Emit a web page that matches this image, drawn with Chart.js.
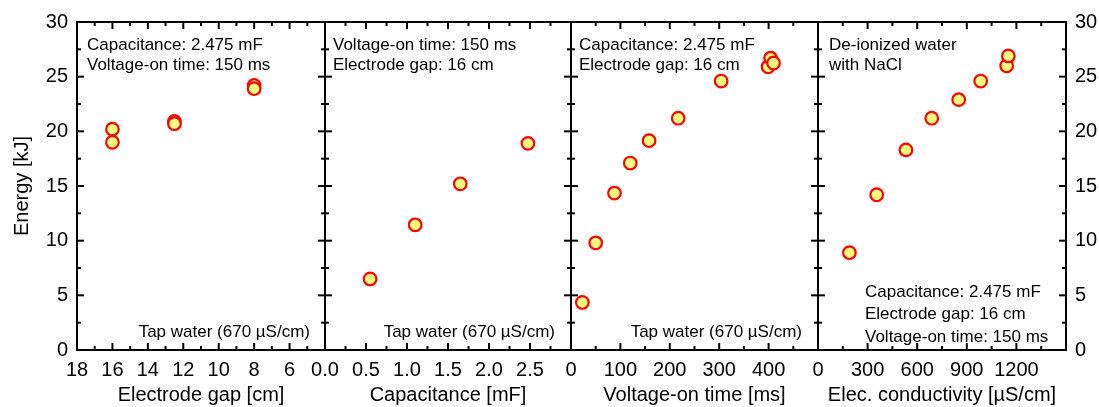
<!DOCTYPE html>
<html><head><meta charset="utf-8">
<script src="https://cdn.jsdelivr.net/npm/chart.js@4.4.1/dist/chart.umd.min.js"></script>
<style>
html,body{margin:0;padding:0;background:#fff;}
#wrap{position:relative;width:1099px;height:407px;overflow:hidden;background:#fff;}
canvas{position:absolute;top:0;}
</style></head><body>
<div id="wrap">
<canvas id="c1" width="365" height="407" style="left:0px"></canvas>
<canvas id="c2" width="326" height="407" style="left:285px"></canvas>
<canvas id="c3" width="327" height="407" style="left:531px"></canvas>
<canvas id="c4" width="321" height="407" style="left:778px"></canvas>
</div>
<script>
// ---- data ----
const gapX  = [16, 16, 12.5, 12.5, 8, 8];
const gapY  = [20.2, 19.0, 20.9, 20.7, 24.2, 23.9];
const capX  = [0.55, 1.1, 1.65, 2.475];
const capY  = [6.5, 11.45, 15.2, 18.9];
const timeX = [23, 50, 88, 120, 158, 217, 304, 399, 404, 410];
const timeY = [4.35, 9.8, 14.35, 17.1, 19.15, 21.2, 24.6, 25.9, 26.7, 26.25];
const condX = [190, 355, 532, 688, 851, 984, 1141, 1151];
const condY = [8.9, 14.2, 18.3, 21.2, 22.9, 24.6, 26.0, 26.9];

const gapTicks    = [18, 16, 14, 12, 10, 8, 6];
const capTicks    = [0, 0.5, 1.0, 1.5, 2.0, 2.5];
const timeTicks   = [0, 100, 200, 300, 400];
const condTicks   = [0, 300, 600, 900, 1200];
const energyTicks = [0, 5, 10, 15, 20, 25, 30];

const FONT = "'Liberation Sans', Arial, Helvetica, sans-serif";

const frameTicks = {
  id: 'frameTicks',
  beforeDatasetsDraw(chart, args, opts) {
    const {ctx, chartArea: a, scales: {x, y}} = chart;
    ctx.save();
    ctx.strokeStyle = '#000';
    ctx.lineWidth = 2;
    const MAJ = 7, MIN = 4;
    const seg = (x1, y1, x2, y2) => { ctx.beginPath(); ctx.moveTo(x1, y1); ctx.lineTo(x2, y2); ctx.stroke(); };
    // x ticks (top and bottom, inward)
    const hx = opts.xStep / 2;
    const xlo = Math.min(x.min, x.max), xhi = Math.max(x.min, x.max);
    for (let k = Math.ceil(xlo / hx - 1e-9); k * hx <= xhi + 1e-9; k++) {
      const px = x.getPixelForValue(k * hx);
      if (px < a.left + 1.5 || px > a.right - 1.5) continue;
      const len = (k % 2 === 0) ? MAJ : MIN;
      seg(px, a.top, px, a.top + len);
      seg(px, a.bottom, px, a.bottom - len);
    }
    // y ticks (left and right, inward)
    const hy = 2.5;
    for (let k = 1; k * hy < 30 - 1e-9; k++) {
      const py = y.getPixelForValue(k * hy);
      const len = (k % 2 === 0) ? MAJ : MIN;
      seg(a.left, py, a.left + len, py);
      seg(a.right, py, a.right - len, py);
    }
    ctx.strokeRect(a.left, a.top, a.right - a.left, a.bottom - a.top);
    // notes
    ctx.fillStyle = '#000';
    ctx.font = '17px ' + FONT;
    ctx.textBaseline = 'alphabetic';
    for (const n of opts.notes) {
      if (n.right !== undefined) { ctx.textAlign = 'right'; ctx.fillText(n.t, a.right - n.right, n.fromBottom !== undefined ? a.bottom - n.fromBottom : a.top + n.top); }
      else { ctx.textAlign = 'left'; ctx.fillText(n.t, a.left + n.left, n.fromBottom !== undefined ? a.bottom - n.fromBottom : a.top + n.top); }
    }
    ctx.restore();
  }
};

function makeChart(id, c) {
  const yScale = {
    type: 'linear', min: 0, max: 30, display: c.yPos ? true : false,
    position: c.yPos || 'left',
    afterBuildTicks: s => { s.ticks = energyTicks.map(v => ({value: v})); },
    afterFit: s => { if (c.yWidth) s.width = c.yWidth; },
    grid: {display: false, drawTicks: false},
    border: {display: false},
    ticks: {color: '#000', font: {family: FONT, size: 20}, padding: 9},
    title: {display: !!c.yTitle, text: c.yTitle || '', color: '#000', font: {family: FONT, size: 20, lineHeight: 1.2}, padding: {top: 10, bottom: 0}}
  };
  return new Chart(document.getElementById(id), {
    type: 'scatter',
    data: {datasets: [{
      data: c.xs.map((v, i) => ({x: v, y: c.ys[i]})),
      pointRadius: 6.3, pointHoverRadius: 6.3,
      pointBackgroundColor: '#FFFF80', pointBorderColor: '#FF0000', pointBorderWidth: 2.2
    }]},
    options: {
      responsive: false, animation: false, events: [],
      layout: {padding: c.padding},
      plugins: {legend: {display: false}, tooltip: {enabled: false},
        frameTicks: {xStep: c.xStep, notes: c.notes}},
      scales: {
        x: {
          type: 'linear', min: c.xMin, max: c.xMax, reverse: !!c.reverse, position: 'bottom',
          afterBuildTicks: s => { s.ticks = c.xTicks.map(v => ({value: v})); },
          afterFit: s => { s.height = 57; },
          grid: {display: false, drawTicks: false},
          border: {display: false},
          ticks: {color: '#000', font: {family: FONT, size: 20}, padding: 8, maxRotation: 0, autoSkip: false,
            callback: c.fmt || (v => String(v))},
          title: {display: true, text: c.xTitle, color: '#000', font: {family: FONT, size: 20, lineHeight: 1.2}, padding: 0}
        },
        y: yScale
      }
    },
    plugins: [frameTicks]
  });
}

makeChart('c1', {
  xs: gapX, ys: gapY, xMin: 4, xMax: 18, reverse: true, xTicks: gapTicks, xStep: 2,
  xTitle: 'Electrode gap [cm]', yPos: 'left', yWidth: 77, yTitle: 'Energy [kJ]',
  padding: {top: 22, left: 0, right: 40, bottom: 0},
  notes: [
    {t: 'Capacitance: 2.475 mF', left: 10, top: 28},
    {t: 'Voltage-on time: 150 ms', left: 10, top: 47.5},
    {t: 'Tap water (670 \u00b5S/cm)', right: 15, fromBottom: 13}
  ]
});
makeChart('c2', {
  xs: capX, ys: capY, xMin: 0, xMax: 3, xTicks: capTicks, xStep: 0.5,
  fmt: v => Number(v).toFixed(1),
  xTitle: 'Capacitance [mF]',
  padding: {top: 22, left: 40, right: 40, bottom: 0},
  notes: [
    {t: 'Voltage-on time: 150 ms', left: 8, top: 28},
    {t: 'Electrode gap: 16 cm', left: 8, top: 47.5},
    {t: 'Tap water (670 \u00b5S/cm)', right: 16, fromBottom: 13}
  ]
});
makeChart('c3', {
  xs: timeX, ys: timeY, xMin: 0, xMax: 500, xTicks: timeTicks, xStep: 100,
  xTitle: 'Voltage-on time [ms]',
  padding: {top: 22, left: 40, right: 40, bottom: 0},
  notes: [
    {t: 'Capacitance: 2.475 mF', left: 8, top: 28},
    {t: 'Electrode gap: 16 cm', left: 8, top: 47.5},
    {t: 'Tap water (670 \u00b5S/cm)', right: 16, fromBottom: 13}
  ]
});
makeChart('c4', {
  xs: condX, ys: condY, xMin: 0, xMax: 1500, xTicks: condTicks, xStep: 300,
  xTitle: 'Elec. conductivity [\u00b5S/cm]', yPos: 'right', yWidth: 33,
  padding: {top: 22, left: 40, right: 0, bottom: 0},
  notes: [
    {t: 'De-ionized water', left: 11, top: 28},
    {t: 'with NaCl', left: 11, top: 48},
    {t: 'Capacitance: 2.475 mF', left: 47, fromBottom: 53.3},
    {t: 'Electrode gap: 16 cm', left: 47, fromBottom: 31},
    {t: 'Voltage-on time: 150 ms', left: 47, fromBottom: 8.3}
  ]
});
</script>
</body></html>
